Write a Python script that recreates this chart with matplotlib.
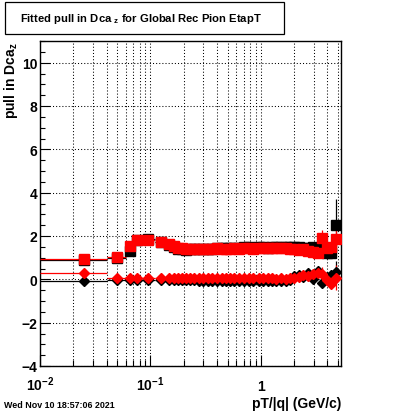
import numpy as np
import matplotlib
matplotlib.use("Agg")
import matplotlib.pyplot as plt
from matplotlib.ticker import FixedLocator, MultipleLocator, NullFormatter
from matplotlib.patches import Rectangle

plt.rcParams['font.family'] = ['Liberation Sans', 'DejaVu Sans']
plt.rcParams['font.weight'] = 'bold'
plt.rcParams['mathtext.default'] = 'regular'

# pT/|q| bin edges (GeV/c)
binEdges = [0.01, 0.04, 0.06, 0.07, 0.08, 0.11, 0.14, 0.155, 0.17, 0.185,
            0.2, 0.22, 0.24, 0.26, 0.285, 0.315, 0.345, 0.38, 0.42, 0.46,
            0.5, 0.55, 0.6, 0.67, 0.74, 0.81, 0.9, 1.0, 1.1, 1.2,
            1.3, 1.45, 1.6, 1.75, 1.9, 2.1, 2.3, 2.55, 2.8, 3.1,
            3.4, 3.75, 4.1, 4.5, 5.0]

# fitted width of the pull (squares)
blackSigma = [0.9, 1.0, 1.3, 1.82, 1.86, 1.72, 1.6, 1.48, 1.4, 1.38,
              1.37, 1.38, 1.38, 1.38, 1.39, 1.4, 1.41, 1.44, 1.45, 1.46,
              1.45, 1.46, 1.46, 1.47, 1.47, 1.46, 1.47, 1.48, 1.46, 1.47,
              1.48, 1.47, 1.47, 1.5, 1.48, 1.48, 1.45, 1.45, 1.5, 1.45,
              1.5, 1.2, 1.2, 2.5]
blackSigmaErr = [0.05, 0.06, 0.06, 0.05, 0.04, 0.04, 0.04, 0.03, 0.03, 0.03,
                 0.03, 0.03, 0.03, 0.03, 0.03, 0.03, 0.03, 0.03, 0.03, 0.03,
                 0.03, 0.03, 0.03, 0.03, 0.03, 0.03, 0.03, 0.03, 0.03, 0.03,
                 0.03, 0.03, 0.03, 0.04, 0.04, 0.05, 0.06, 0.07, 0.08, 0.1,
                 0.12, 0.15, 0.2, 1.2]
redSigma = [0.93, 1.04, 1.52, 1.83, 1.82, 1.74, 1.62, 1.52, 1.46, 1.43,
            1.42, 1.41, 1.42, 1.41, 1.42, 1.41, 1.42, 1.43, 1.42, 1.41,
            1.42, 1.43, 1.42, 1.44, 1.43, 1.42, 1.44, 1.45, 1.44, 1.46,
            1.43, 1.45, 1.44, 1.42, 1.38, 1.36, 1.42, 1.3, 1.25, 1.2,
            1.9, 1.45, 1.5, 1.85]
redSigmaErr = [0.05, 0.06, 0.06, 0.05, 0.04, 0.04, 0.04, 0.03, 0.03, 0.03,
               0.03, 0.03, 0.03, 0.03, 0.03, 0.03, 0.03, 0.03, 0.03, 0.03,
               0.03, 0.03, 0.03, 0.03, 0.03, 0.03, 0.03, 0.03, 0.03, 0.03,
               0.03, 0.03, 0.03, 0.04, 0.04, 0.05, 0.06, 0.07, 0.08, 0.1,
               0.4, 0.15, 0.2, 0.65]

# fitted mean of the pull (diamonds)
blackMean = [-0.08, -0.05, -0.02, -0.02, -0.02, -0.01, -0.02, -0.02, -0.02, -0.03,
             -0.03, -0.04, -0.05, -0.06, -0.06, -0.07, -0.06, -0.07, -0.08, -0.07,
             -0.08, -0.07, -0.08, -0.07, -0.08, -0.08, -0.07, -0.08, -0.09, -0.08,
             -0.08, -0.09, -0.08, -0.05, 0.15, 0.2, 0.1, 0.3, 0.0, 0.4,
             -0.15, 0.1, 0.2, 0.35]
blackMeanErr = [0.05, 0.06, 0.06, 0.05, 0.04, 0.04, 0.04, 0.03, 0.03, 0.03,
                0.03, 0.03, 0.03, 0.03, 0.03, 0.03, 0.03, 0.03, 0.03, 0.03,
                0.03, 0.03, 0.03, 0.03, 0.03, 0.03, 0.03, 0.03, 0.03, 0.03,
                0.03, 0.03, 0.03, 0.04, 0.04, 0.05, 0.06, 0.07, 0.08, 0.1,
                0.12, 0.15, 0.2, 0.5]
redMean = [0.27, 0.07, 0.07, 0.06, 0.06, 0.05, 0.05, 0.04, 0.05, 0.05,
           0.04, 0.05, 0.04, 0.05, 0.05, 0.04, 0.05, 0.04, 0.05, 0.04,
           0.05, 0.04, 0.05, 0.04, 0.05, 0.04, 0.05, 0.06, 0.04, 0.05,
           0.03, 0.05, 0.02, 0.05, 0.08, 0.12, 0.18, 0.15, 0.25, 0.3,
           0.25, -0.05, -0.2, 0.08]
redMeanErr = [0.05, 0.06, 0.06, 0.05, 0.04, 0.04, 0.04, 0.03, 0.03, 0.03,
              0.03, 0.03, 0.03, 0.03, 0.03, 0.03, 0.03, 0.03, 0.03, 0.03,
              0.03, 0.03, 0.03, 0.03, 0.03, 0.03, 0.03, 0.03, 0.03, 0.03,
              0.03, 0.03, 0.03, 0.04, 0.04, 0.05, 0.06, 0.07, 0.08, 0.1,
              0.3, 0.15, 0.2, 0.58]

xTicks = [0.01, 0.1, 1]
xTickLabels = ["10$^{-2}$", "10$^{-1}$", "1"]


def drawSeries(ax, x, xerr, y, yerr, color, marker, size):
    ax.errorbar(x, y, xerr=xerr, yerr=yerr, fmt=marker, color=color,
                ms=size, mec=color, mfc=color, elinewidth=0.9, capsize=0,
                zorder=3)


def main():
    edges = np.array(binEdges)
    x = 0.5 * (edges[:-1] + edges[1:])
    xerr = 0.5 * (edges[1:] - edges[:-1])

    fig = plt.figure(figsize=(4.0, 4.14), dpi=100)
    ax = fig.add_axes([40 / 400, 1 - 367 / 414, 301 / 400, 325 / 414])

    drawSeries(ax, x, xerr, blackSigma, blackSigmaErr, "black", "s", 7.2)
    drawSeries(ax, x, xerr, blackMean, blackMeanErr, "black", "D", 5.0)
    drawSeries(ax, x, xerr, redSigma, redSigmaErr, "red", "s", 7.2)
    drawSeries(ax, x, xerr, redMean, redMeanErr, "red", "D", 5.0)

    ax.set_xscale("log")
    ax.set_xlim(0.01, 5.3)
    ax.set_ylim(-4.0, 11.0)

    ax.xaxis.set_major_locator(FixedLocator(xTicks))
    ax.set_xticklabels(xTickLabels)
    ax.xaxis.set_minor_formatter(NullFormatter())
    ax.yaxis.set_major_locator(MultipleLocator(2))
    ax.yaxis.set_minor_locator(MultipleLocator(0.5))

    ax.tick_params(which="both", direction="in", top=False, right=False,
                   width=0.8, colors="black")
    ax.tick_params(axis="x", which="major", length=8, pad=17.5, labelsize=10)
    ax.tick_params(axis="x", which="minor", length=4)
    ax.tick_params(axis="y", which="major", length=7, pad=2, labelsize=10)
    ax.tick_params(axis="y", which="minor", length=3.5)
    for t in ax.get_xticklabels():
        t.set_verticalalignment("baseline")

    ax.xaxis.grid(True, which="both", color="black", lw=0.75, ls=(0, (1, 2)))
    ax.yaxis.grid(True, which="major", color="black", lw=0.75, ls=(0, (1, 2)))
    ax.set_axisbelow(True)
    for s in ax.spines.values():
        s.set_linewidth(1.0)

    ax.set_ylabel("pull in Dca$_z$", fontsize=10, fontweight="bold")
    ax.yaxis.set_label_coords(-0.066, 1.0)
    ax.yaxis.label.set_horizontalalignment("right")

    fig.text(341 / 400, 1 - 404 / 414, "pT/|q| (GeV/c)", fontsize=10,
             fontweight="bold", ha="right", va="center")
    fig.text(4 / 400, 1 - 405.5 / 414, "Wed Nov 10 18:57:06 2021",
             fontsize=6.4, fontweight="bold", ha="left", va="center")

    # title box
    fig.patches.append(Rectangle((5 / 400, 1 - 35 / 414), 279 / 400, 32 / 414,
                                 transform=fig.transFigure, fill=True,
                                 facecolor="white", edgecolor="black", lw=0.9))
    fig.text(140.5 / 400, 1 - 19 / 414,
             "Fitted pull in Dca $_z$ for Global Rec Pion EtapT",
             fontsize=8.1, fontweight="bold", ha="center", va="center")

    fig.savefig("out.png", dpi=100)


if __name__ == '__main__':
    main()
